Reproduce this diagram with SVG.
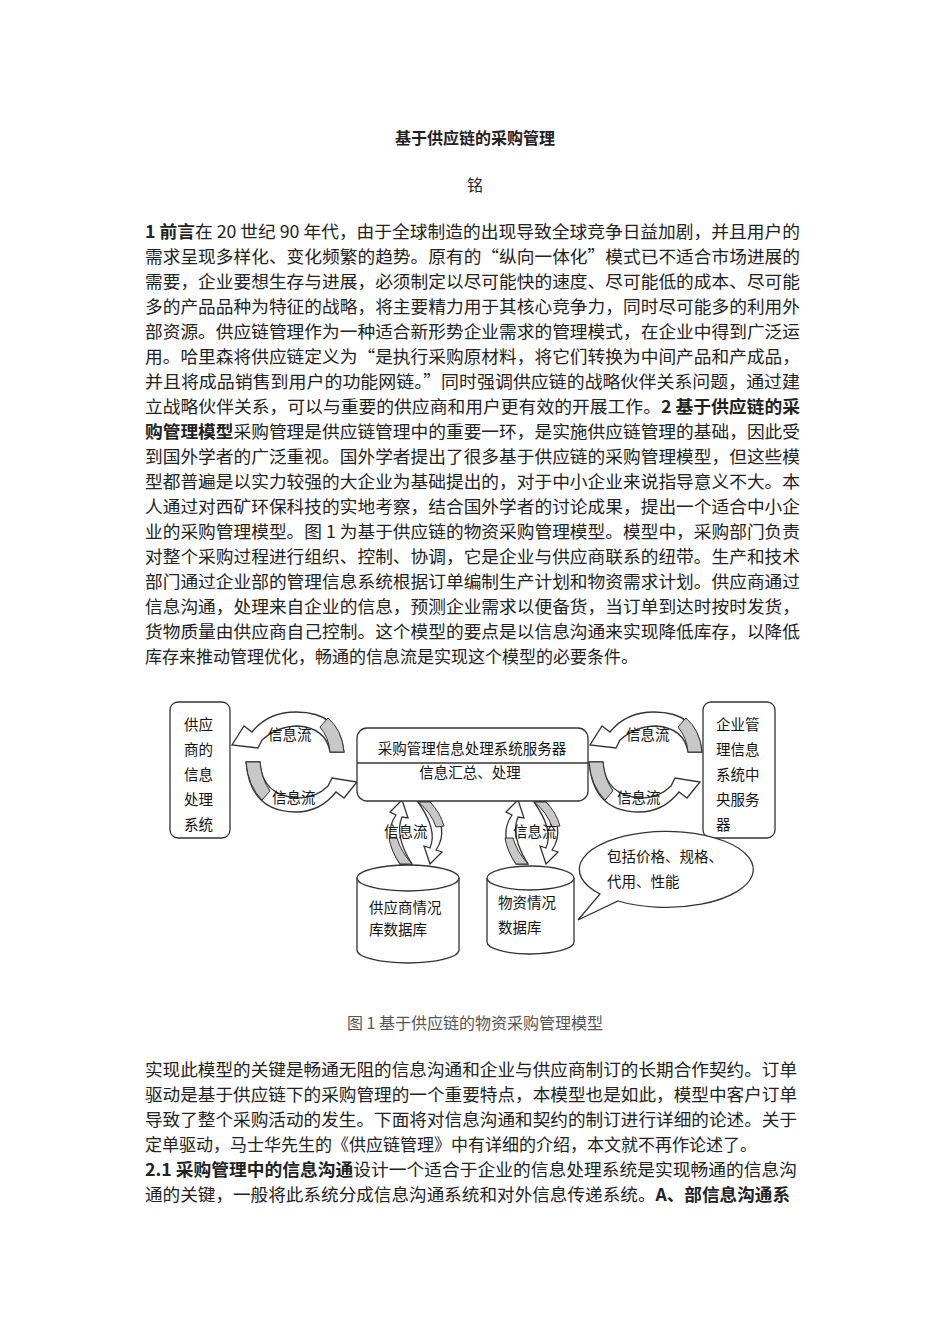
<svg xmlns="http://www.w3.org/2000/svg" width="950" height="1344" viewBox="0 0 950 1344">
<style>
text{font-family:"Noto Sans CJK SC","Noto Sans",sans-serif;fill:#222}
.p{font-size:17px}
.b{font-weight:bold}
.d{font-size:14.5px;fill:#111}
.s{fill:#fff;stroke:#333;stroke-width:1.3}
.g{fill:#c8c8c8;stroke:#333;stroke-width:1}
</style>
<rect width="950" height="1344" fill="#fff"/>
<text x="475" y="144" text-anchor="middle" class="b" font-size="16">基于供应链的采购管理</text>
<text x="475" y="191" text-anchor="middle" font-size="16">铭</text>
<g class="p">
<text x="145" y="238" textLength="655" lengthAdjust="spacingAndGlyphs"><tspan class="b">1 前言</tspan>在 20 世纪 90 年代，由于全球制造的出现导致全球竞争日益加剧，并且用户的</text>
<text x="145" y="263" textLength="655" lengthAdjust="spacingAndGlyphs">需求呈现多样化、变化频繁的趋势。原有的“纵向一体化”模式已不适合市场进展的</text>
<text x="145" y="288" textLength="655" lengthAdjust="spacingAndGlyphs">需要，企业要想生存与进展，必须制定以尽可能快的速度、尽可能低的成本、尽可能</text>
<text x="145" y="313" textLength="655" lengthAdjust="spacingAndGlyphs">多的产品品种为特征的战略，将主要精力用于其核心竞争力，同时尽可能多的利用外</text>
<text x="145" y="338" textLength="655" lengthAdjust="spacingAndGlyphs">部资源。供应链管理作为一种适合新形势企业需求的管理模式，在企业中得到广泛运</text>
<text x="145" y="363" textLength="655" lengthAdjust="spacingAndGlyphs">用。哈里森将供应链定义为“是执行采购原材料，将它们转换为中间产品和产成品，</text>
<text x="145" y="388" textLength="655" lengthAdjust="spacingAndGlyphs">并且将成品销售到用户的功能网链。”同时强调供应链的战略伙伴关系问题，通过建</text>
<text x="145" y="413" textLength="655" lengthAdjust="spacingAndGlyphs">立战略伙伴关系，可以与重要的供应商和用户更有效的开展工作。<tspan class="b">2 基于供应链的采</tspan></text>
<text x="145" y="438" textLength="655" lengthAdjust="spacingAndGlyphs"><tspan class="b">购管理模型</tspan>采购管理是供应链管理中的重要一环，是实施供应链管理的基础，因此受</text>
<text x="145" y="463" textLength="655" lengthAdjust="spacingAndGlyphs">到国外学者的广泛重视。国外学者提出了很多基于供应链的采购管理模型，但这些模</text>
<text x="145" y="488" textLength="655" lengthAdjust="spacingAndGlyphs">型都普遍是以实力较强的大企业为基础提出的，对于中小企业来说指导意义不大。本</text>
<text x="145" y="513" textLength="655" lengthAdjust="spacingAndGlyphs">人通过对西矿环保科技的实地考察，结合国外学者的讨论成果，提出一个适合中小企</text>
<text x="145" y="538" textLength="655" lengthAdjust="spacingAndGlyphs">业的采购管理模型。图 1 为基于供应链的物资采购管理模型。模型中，采购部门负责</text>
<text x="145" y="563" textLength="655" lengthAdjust="spacingAndGlyphs">对整个采购过程进行组织、控制、协调，它是企业与供应商联系的纽带。生产和技术</text>
<text x="145" y="588" textLength="655" lengthAdjust="spacingAndGlyphs">部门通过企业部的管理信息系统根据订单编制生产计划和物资需求计划。供应商通过</text>
<text x="145" y="613" textLength="655" lengthAdjust="spacingAndGlyphs">信息沟通，处理来自企业的信息，预测企业需求以便备货，当订单到达时按时发货，</text>
<text x="145" y="638" textLength="655" lengthAdjust="spacingAndGlyphs">货物质量由供应商自己控制。这个模型的要点是以信息沟通来实现降低库存，以降低</text>
<text x="145" y="663">库存来推动管理优化，畅通的信息流是实现这个模型的必要条件。</text>
</g>

<g id="connectors">
<g id="arrow-ul">
<path class="s" d="M344 752 Q340 712 296 712 Q268 712 252 732 L244 726 L232 745 L258 748 L262 740 Q278 726 298 726 Q326 728 330 752 Z"/>
<path class="g" d="M344 752 Q342 730 328 718 L320 727 Q329 738 330 752 Z"/>
</g>
<use href="#arrow-ul" transform="translate(358,0)"/>
<g id="arrow-ll">
<path class="s" d="M246 762 Q250 812 296 812 Q320 812 336 792 L344 798 L357 782 L332 778 L328 786 Q316 798 298 798 Q262 796 260 762 Z"/>
<path class="g" d="M246 762 Q248 786 262 800 L270 791 Q261 778 260 762 Z"/>
</g>
<use href="#arrow-ll" transform="translate(343,0)"/>
<g id="arrow-v">
<path class="s" d="M400 864 Q382 835 396 815 L390 812 L402 800 L408 818 L402 817 Q394 836 412 864 Z"/>
<path class="g" d="M400 864 Q391 851 389 838 L397 838 Q401 852 412 864 Z"/>
<path class="s" d="M430 802 Q450 830 436 850 L442 852 L430 864 L424 846 L430 848 Q438 830 418 802 Z"/>
<path class="g" d="M430 802 Q440 812 444 826 L436 827 Q431 812 418 802 Z"/>
</g>
<use href="#arrow-v" transform="translate(116,0)"/>
<text class="d" x="268" y="740">信息流</text>
<text class="d" x="272" y="803">信息流</text>
<text class="d" x="626" y="740">信息流</text>
<text class="d" x="617" y="803">信息流</text>
<text class="d" x="384" y="837">信息流</text>
<text class="d" x="513" y="837">信息流</text>
</g>

<g id="supplier">
<rect class="s" x="170" y="702" width="60" height="136" rx="8"/>
<text class="d" x="184" y="730">供应</text><text class="d" x="184" y="755">商的</text><text class="d" x="184" y="780">信息</text><text class="d" x="184" y="805">处理</text><text class="d" x="184" y="830">系统</text>
</g>
<g id="server">
<rect class="s" x="357" y="728" width="231" height="73" rx="10"/>
<line x1="357" y1="763" x2="588" y2="763" stroke="#333" stroke-width="1.3"/>
<text class="d" x="472" y="754" text-anchor="middle">采购管理信息处理系统服务器</text>
<text class="d" x="470" y="778" text-anchor="middle">信息汇总、处理</text>
</g>
<g id="enterprise">
<rect class="s" x="703" y="702" width="72" height="136" rx="8"/>
<text class="d" x="716" y="730">企业管</text><text class="d" x="716" y="755">理信息</text><text class="d" x="716" y="780">系统中</text><text class="d" x="716" y="805">央服务</text><text class="d" x="716" y="830">器</text>
</g>
<g id="db-supplier">
<path class="s" d="M357 878 L357 950 A51 13 0 0 0 459 950 L459 878"/>
<ellipse class="s" cx="408" cy="878" rx="51" ry="13"/>
<text class="d" x="369" y="913">供应商情况</text><text class="d" x="369" y="935">库数据库</text>
</g>
<g id="db-material">
<path class="s" d="M487 878 L487 942 A43.5 12 0 0 0 574 942 L574 878"/>
<ellipse class="s" cx="530.5" cy="878" rx="43.5" ry="12"/>
<text class="d" x="498" y="908">物资情况</text><text class="d" x="498" y="933">数据库</text>
</g>
<g id="callout">
<path class="s" d="M600 894 A87 38 0 1 1 618 901 L578 920 Z"/>
<text class="d" x="607" y="862">包括价格、规格、</text>
<text class="d" x="607" y="887">代用、性能</text>
</g>

<text x="475" y="1029" text-anchor="middle" font-size="16" style="fill:#555">图 1 基于供应链的物资采购管理模型</text>
<g class="p">
<text x="145" y="1076" textLength="652" lengthAdjust="spacingAndGlyphs">实现此模型的关键是畅通无阻的信息沟通和企业与供应商制订的长期合作契约。订单</text>
<text x="145" y="1101" textLength="652" lengthAdjust="spacingAndGlyphs">驱动是基于供应链下的采购管理的一个重要特点，本模型也是如此，模型中客户订单</text>
<text x="145" y="1126" textLength="652" lengthAdjust="spacingAndGlyphs">导致了整个采购活动的发生。下面将对信息沟通和契约的制订进行详细的论述。关于</text>
<text x="145" y="1151">定单驱动，马士华先生的《供应链管理》中有详细的介绍，本文就不再作论述了。</text>
<text x="145" y="1176" textLength="652" lengthAdjust="spacingAndGlyphs"><tspan class="b">2.1 采购管理中的信息沟通</tspan>设计一个适合于企业的信息处理系统是实现畅通的信息沟</text>
<text x="145" y="1201" textLength="645" lengthAdjust="spacingAndGlyphs">通的关键，一般将此系统分成信息沟通系统和对外信息传递系统。<tspan class="b">A、部信息沟通系</tspan></text>
</g>
</svg>
